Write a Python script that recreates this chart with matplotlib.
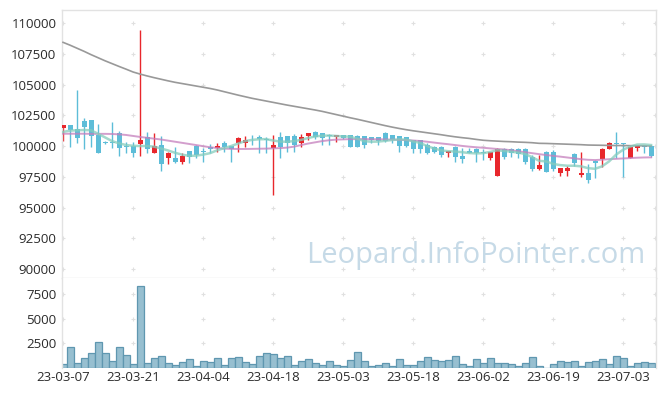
# Candlestick chart with moving averages and volume panel

import matplotlib
matplotlib.use("Agg")
import matplotlib.pyplot as plt
import pandas as pd

# Trading days (KRX holidays removed)
holidays = ["2023-05-01", "2023-05-05", "2023-05-29", "2023-06-06"]
dates = [d for d in pd.bdate_range("2023-03-07", "2023-07-07")
         if d.strftime("%Y-%m-%d") not in holidays]

opens = [101450, 101700, 101380, 102050, 102110, 100920, 100300, 100300, 101030, 100000,
         100020, 100200, 100710, 99460, 100080, 99050, 99020, 98720, 99590, 100020,
         99550, 99950, 99860, 100270, 100000, 100270, 100270, 100650, 100710, 100540,
         99860, 100710, 100810, 100810, 100220, 100840, 101110, 101030, 100840, 100760,
         100860, 100890, 100810, 100810, 100710, 100710, 101030, 100890, 100810, 100710,
         100490, 100490, 100080, 99950, 99950, 99430, 99950, 99190, 99620, 99760,
         99540, 99050, 97560, 99760, 99760, 99760, 99760, 99080, 98130, 99490,
         99540, 97830, 97990, 99350, 97670, 97780, 98800, 98940, 99780, 100220,
         100220, 99050, 99860, 100080, 100000]
highs = [101700, 101700, 104550, 102250, 102150, 101790, 100400, 101930, 101220, 100300,
         100300, 109430, 101110, 101030, 100810, 99500, 99950, 99460, 99600, 100050,
         99800, 100130, 100250, 100400, 100030, 100700, 100790, 100920, 100900, 100700,
         100890, 101110, 100850, 101000, 101000, 101050, 101250, 101050, 101000, 100900,
         100900, 100900, 100900, 100850, 100750, 100750, 101160, 100920, 100850, 100750,
         100500, 100500, 100220, 100000, 100000, 99600, 100000, 99810, 99800, 99850,
         99750, 99500, 99800, 99800, 99800, 99830, 99800, 99260, 99270, 99570,
         99700, 98200, 98400, 99460, 99490, 98510, 98860, 99800, 100300, 101110,
         100270, 100000, 100100, 100100, 100050]
lows = [100430, 99950, 100250, 99730, 99950, 99400, 100200, 99860, 99150, 99400,
        99130, 99150, 99460, 99400, 97990, 98510, 98590, 98540, 98640, 99000,
        98700, 99400, 99500, 99550, 98670, 99540, 99950, 100080, 99400, 99450,
        96020, 99000, 99540, 99540, 99950, 100490, 100570, 100080, 100070, 100350,
        100550, 99950, 99950, 99810, 100270, 100080, 100300, 100220, 99540, 99950,
        99460, 99460, 99350, 99400, 99100, 99080, 98720, 98590, 99400, 98720,
        98860, 98900, 97560, 98920, 99080, 99030, 98540, 97990, 98050, 97860,
        97990, 97560, 97560, 98370, 97450, 96970, 97370, 98320, 99780, 99000,
        97500, 99050, 99590, 99460, 99100]
closes = [101700, 101300, 100670, 101570, 100840, 99400, 100280, 100280, 99810, 99890,
          99460, 100500, 99730, 100000, 98560, 99460, 98700, 99190, 99080, 99270,
          99500, 99780, 100020, 99950, 99780, 100670, 100520, 100620, 100540, 100500,
          100080, 99950, 100270, 100100, 100710, 101030, 100760, 100620, 100820, 100890,
          100650, 99950, 99950, 100080, 100490, 100430, 100430, 100490, 100000, 100000,
          99780, 99780, 99460, 99540, 99270, 99590, 99130, 98940, 99460, 99400,
          99400, 99490, 99760, 99130, 99460, 99320, 98720, 98130, 98460, 97910,
          98130, 98190, 98190, 98640, 97830, 97240, 98640, 99760, 100270, 100200,
          100200, 99950, 100080, 99950, 99200]
volumes = [370, 2090, 510, 980, 1520, 2600, 1520, 710, 2090, 1280,
           370, 8310, 510, 980, 1180, 470, 270, 570, 880, 170,
           710, 570, 980, 270, 980, 1080, 570, 370, 1180, 1520,
           1420, 980, 1180, 270, 680, 880, 470, 270, 680, 270,
           170, 780, 1620, 680, 170, 270, 470, 170, 880, 270,
           270, 680, 1080, 780, 680, 780, 1180, 370, 170, 880,
           470, 980, 470, 470, 370, 170, 470, 1080, 170, 30,
           370, 680, 570, 680, 170, 570, 680, 880, 370, 1180,
           980, 170, 470, 570, 470]

ma_long = [108430, 108200, 107950, 107700, 107430, 107180, 106930, 106700, 106470, 106250,
           106020, 105850, 105700, 105560, 105430, 105300, 105180, 105080, 104980, 104880,
           104780, 104680, 104560, 104420, 104280, 104140, 104010, 103880, 103770, 103660,
           103550, 103440, 103330, 103230, 103130, 103030, 102930, 102820, 102690, 102560,
           102430, 102300, 102180, 102050, 101920, 101790, 101660, 101540, 101430, 101330,
           101240, 101160, 101080, 101000, 100920, 100830, 100750, 100680, 100620, 100540,
           100470, 100430, 100400, 100370, 100350, 100320, 100300, 100270, 100220, 100210,
           100190, 100170, 100150, 100130, 100110, 100080, 100070, 100060, 100050, 100040,
           100040, 100030, 100020, 100020, 100010]
ma_mid = [101000, 101000, 101000, 101000, 100990, 100990, 100990, 100980, 100950, 100900,
          100820, 100740, 100670, 100600, 100530, 100440, 100350, 100260, 100170, 100080,
          99990, 99900, 99840, 99790, 99770, 99760, 99760, 99770, 99780, 99790,
          99810, 99830, 99870, 99950, 100080, 100200, 100300, 100400, 100470, 100520,
          100540, 100560, 100560, 100560, 100550, 100550, 100540, 100520, 100500, 100480,
          100450, 100410, 100350, 100280, 100210, 100150, 100080, 100010, 99950, 99900,
          99860, 99810, 99760, 99720, 99660, 99580, 99500, 99420, 99340, 99270,
          99200, 99140, 99070, 99000, 98930, 98880, 98860, 98890, 98930, 98960,
          98990, 99020, 99050, 99070, 99080]
ma_short = [101150, 101250, 101280, 101300, 101280, 101000, 100700, 100400, 100220, 100080,
            100020, 100000, 100000, 99950, 99800, 99640, 99450, 99300, 99200, 99220,
            99300, 99420, 99650, 99830, 100000, 100200, 100400, 100500, 100550, 100560,
            100450, 100360, 100350, 100400, 100500, 100650, 100780, 100840, 100850, 100820,
            100780, 100760, 100600, 100400, 100350, 100360, 100420, 100490, 100540, 100520,
            100380, 100250, 100000, 99800, 99650, 99580, 99550, 99500, 99430, 99400,
            99420, 99520, 99650, 99600, 99540, 99470, 99350, 99100, 98800, 98750,
            98550, 98450, 98400, 98400, 98350, 98200, 98150, 98350, 98750, 99300,
            99700, 99950, 100120, 100130, 100080]

price_ticks = [90000, 92500, 95000, 97500, 100000, 102500, 105000, 107500, 110000]
volume_ticks = [2500, 5000, 7500]
tick_positions = list(range(0, len(dates), 10))
tick_labels = [dates[i].strftime("%y-%m-%d") for i in tick_positions]

RED = "#e8272c"
BLUE = "#5dbdd8"
FRAME = "#e2e2e2"
TEXT = "#2b2b2b"

plt.rcParams["font.family"] = ["Open Sans", "DejaVu Sans"]

fig = plt.figure(figsize=(6.65, 3.96), dpi=100)
ax = fig.add_axes([62 / 665, 1 - 278 / 396, 594 / 665, 268 / 396])
axv = fig.add_axes([62 / 665, 1 - 368 / 396, 594 / 665, 90 / 396])

x = list(range(len(dates)))

# Grid "+" marks at tick intersections
for a, yt in ((ax, price_ticks), (axv, volume_ticks)):
    gx = [p for p in tick_positions for _ in yt] + [84.6] * len(yt)
    gy = [v for _ in tick_positions for v in yt] + list(yt)
    a.scatter(gx, gy, marker="+", s=12, color="#e0e0e0", linewidths=0.8, zorder=0)

# Candles
for i in x:
    o, h, l, c = opens[i], highs[i], lows[i], closes[i]
    col = RED if c > o else BLUE
    ax.vlines(i, l, h, color=col, linewidth=1.0, zorder=2)
    body = max(abs(c - o), 60)
    ax.bar(i, body, bottom=min(o, c), width=0.7, color=col, linewidth=0, zorder=3)

# Moving averages
ax.plot(x, ma_long, color="#999999", linewidth=1.2, zorder=4)
ax.plot(x, ma_mid, color="#c57fbd", linewidth=1.4, alpha=0.75, zorder=4)
ax.plot(x, ma_short, color="#86cdbd", linewidth=1.8, alpha=0.75, zorder=4)

ax.set_xlim(-0.15, 84.7)
ax.set_ylim(89270, 111060)
ax.set_yticks(price_ticks)
ax.set_yticklabels([str(v) for v in price_ticks])
ax.set_xticks([])

# Volume bars
axv.bar(x, volumes, width=1.0, color="#97bfd0", edgecolor="#5f97b0", linewidth=0.9, zorder=2)
axv.set_xlim(-0.15, 84.7)
axv.set_ylim(0, 9120)
axv.set_yticks(volume_ticks)
axv.set_yticklabels([str(v) for v in volume_ticks])
axv.set_xticks(tick_positions)
axv.set_xticklabels(tick_labels)

for a in (ax, axv):
    a.tick_params(length=0, labelsize=9.5, colors=TEXT, pad=4)
    for s in a.spines.values():
        s.set_color(FRAME)
        s.set_linewidth(1.0)
axv.spines["top"].set_visible(False)
axv.spines["bottom"].set_visible(False)
axv.tick_params(axis="x", pad=2)

# Watermark
fig.text(476 / 665, 1 - 263 / 396, "Leopard.InfoPointer.com", fontsize=21,
         color="#c6dae7", ha="center", va="baseline", zorder=0)

fig.savefig("out.png", dpi=100)
